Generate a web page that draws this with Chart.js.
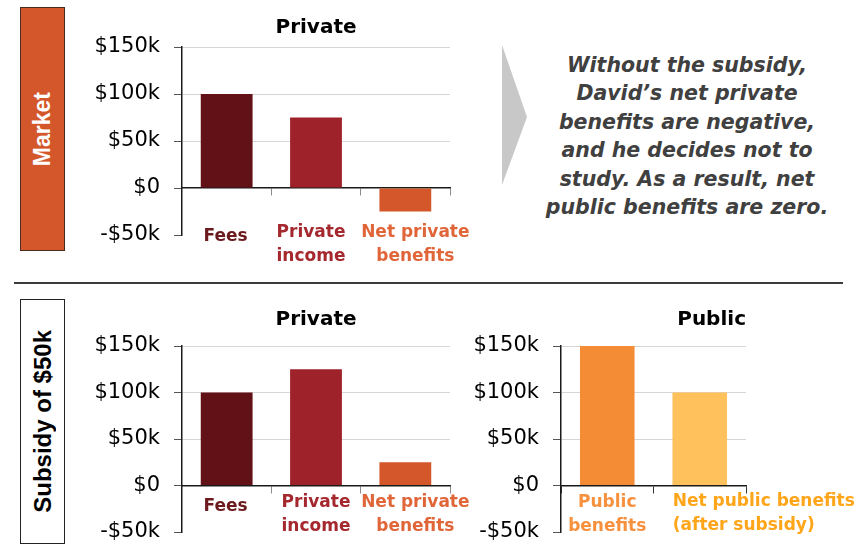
<!DOCTYPE html>
<html>
<head>
<meta charset="utf-8">
<script src="https://cdn.jsdelivr.net/npm/chart.js@4"></script>
<style>
  body { margin: 0; background: #fff; }
  #page { position: relative; width: 864px; height: 545px; overflow: hidden; }
  canvas, .side, .note, .rule, svg { position: absolute; }
  .side { left: 20px; width: 43px; display: flex; align-items: center; justify-content: center;
          font: bold 23px 'Liberation Sans', Arial, sans-serif; }
  .side span { writing-mode: vertical-rl; transform: rotate(180deg); white-space: nowrap; }
  #market { top: 7px; height: 242px; background: #d4572b; border: 1px solid #4a2b1c; color: #fff; }
  #subsidy { top: 299px; height: 243px; background: #fff; border: 1px solid #222; color: #000; font-size: 24px; }
  .rule { left: 14px; top: 282px; width: 829px; height: 2px; background: #3c3c3c; }
  .note { left: 527px; top: 51px; width: 320px; text-align: center; color: #404040; white-space: nowrap;
          font: italic bold 20.5px 'DejaVu Sans', sans-serif; line-height: 28.4px; }
</style>
</head>
<body>
<div id="page">
  <div class="side" id="market"><span>Market</span></div>
  <div class="side" id="subsidy"><span>Subsidy of $50k</span></div>

  <canvas id="marketChart" width="400" height="272" style="left:80px;top:0"></canvas>

  <svg style="left:500px;top:43px" width="30" height="146">
    <polygon points="2,2 27,74 2,142" fill="#c8c8c8"/>
  </svg>
  <div class="note">Without the subsidy,<br>David’s net private<br>benefits are negative,<br>and he decides not to<br>study. As a result, net<br>public benefits are zero.</div>

  <div class="rule"></div>

  <canvas id="subsidyPrivateChart" width="400" height="255" style="left:80px;top:290px"></canvas>
  <canvas id="subsidyPublicChart" width="399" height="255" style="left:465px;top:290px"></canvas>
</div>

<script>
const FONT = "'DejaVu Sans', sans-serif";

// categories and values
const privateLabels = [['Fees'], ['Private', 'income'], ['Net private', 'benefits']];
const marketPrivate = [100000, 75000, -25000];
const subsidyPrivate = [100000, 125000, 25000];

const publicLabels = [['Public', 'benefits'], ['Net public benefits', '(after subsidy)']];
const subsidyPublic = [150000, 100000];

const yTicks = [-50000, 0, 50000, 100000, 150000];

// colours
const privateBarColors = ['#621116', '#9e2229', '#d4572b'];
const privateTextColors = ['#6b1a1d', '#a5282e', '#e0663a'];
const publicBarColors = ['#f48b35', '#fec15c'];
const publicTextColors = ['#f7913e', '#ffa519'];

function money(v) {
  if (v === 0) return '$0';
  return (v < 0 ? '-$' : '$') + Math.abs(v) / 1000 + 'k';
}

function yScale(width) {
  return {
    min: yTicks[0],
    max: yTicks[yTicks.length - 1],
    afterBuildTicks: s => { s.ticks = yTicks.map(value => ({ value })); },
    // fixed axis width, and no extra room reserved for the end labels
    afterFit: s => { s.width = width; s.paddingTop = 0; s.paddingBottom = 0; },
    grid: {
      color: c => (c.tick && c.tick.value > 0 ? '#d6d6d6' : 'transparent'),
      tickColor: '#555',
      tickLength: 8
    },
    border: { color: '#1a1a1a', width: 1.5 },
    ticks: { callback: money, padding: 14, color: '#000', font: { family: FONT, size: 21 } }
  };
}

// category axis drawn on the $0 line (line + tick marks only)
function zeroAxis(tickColor) {
  return {
    position: { y: 0 },
    offset: true,
    z: 1,
    afterFit: s => { s.paddingLeft = 0; s.paddingRight = 0; },
    grid: { offset: true, drawOnChartArea: false, tickLength: 7, tickColor },
    border: { color: '#1a1a1a', width: 1.5 },
    ticks: { display: false, autoSkip: false, maxRotation: 0 }
  };
}

// one extra axis per category label, so each label can be nudged on its own
function labelAxes(labels, colors, place) {
  const axes = {};
  place.forEach((p, i) => {
    axes['xLabel' + i] = {
      type: 'category',
      axis: 'x',
      position: { y: 0 },
      offset: true,
      afterFit: s => { s.paddingLeft = 0; s.paddingRight = 0; },
      grid: { display: false, drawTicks: false },
      border: { display: false },
      ticks: {
        autoSkip: false,
        maxRotation: 0,
        minRotation: 0,
        align: p.align || 'center',
        labelOffset: p.dx,
        padding: p.pad,
        callback: (v, j) => (j === i ? labels[j] : ''),
        color: colors[i],
        font: { family: FONT, size: 17, weight: 'bold', lineHeight: 1.4 }
      }
    };
  });
  return axes;
}

function titleOpts(text, padding, align) {
  return {
    display: true,
    text,
    fullSize: false,
    align: align || 'center',
    color: '#000',
    font: { family: FONT, size: 20, weight: 'bold', lineHeight: 1.2 },
    padding
  };
}

function barChart(id, cfg) {
  return new Chart(document.getElementById(id), {
    type: 'bar',
    data: {
      labels: cfg.labels,
      datasets: [{
        data: cfg.values,
        backgroundColor: cfg.barColors,
        categoryPercentage: 1,
        barPercentage: cfg.barPct
      }]
    },
    options: {
      responsive: false,
      animation: false,
      layout: { padding: cfg.padding },
      plugins: {
        legend: { display: false },
        tooltip: { enabled: false },
        title: titleOpts(cfg.title, cfg.titlePadding, cfg.titleAlign)
      },
      scales: Object.assign({
        x: zeroAxis(cfg.tickColor),
        y: yScale(cfg.yWidth)
      }, labelAxes(cfg.labels, cfg.textColors, cfg.labelPlace))
    }
  });
}

barChart('marketChart', {
  labels: privateLabels, values: marketPrivate,
  barColors: privateBarColors, textColors: privateTextColors, barPct: 0.58,
  title: 'Private', titlePadding: { top: 16, bottom: 7 },
  padding: { left: 0, top: 0, right: 30, bottom: 37 },
  yWidth: 102, tickColor: '#8c8c8c',
  labelPlace: [{ dx: -1, pad: 37 }, { dx: -5, pad: 33 }, { dx: 10, pad: 33 }]
});

barChart('subsidyPrivateChart', {
  labels: privateLabels, values: subsidyPrivate,
  barColors: privateBarColors, textColors: privateTextColors, barPct: 0.58,
  title: 'Private', titlePadding: { top: 18, bottom: 14 },
  padding: { left: 0, top: 0, right: 30, bottom: 13 },
  yWidth: 102, tickColor: '#8c8c8c',
  labelPlace: [{ dx: -1, pad: 9 }, { dx: 0, pad: 5 }, { dx: 10, pad: 5 }]
});

barChart('subsidyPublicChart', {
  labels: publicLabels, values: subsidyPublic,
  barColors: publicBarColors, textColors: publicTextColors, barPct: 0.59,
  title: 'Public', titlePadding: { top: 18, bottom: 14 }, titleAlign: 'end',
  padding: { left: 0, top: 0, right: 118, bottom: 13 },
  yWidth: 96, tickColor: '#333',
  // the long label starts at its bar's left edge
  labelPlace: [{ dx: 0, pad: 5 }, { align: 'start', dx: -27, pad: 4 }]
});
</script>
</body>
</html>
